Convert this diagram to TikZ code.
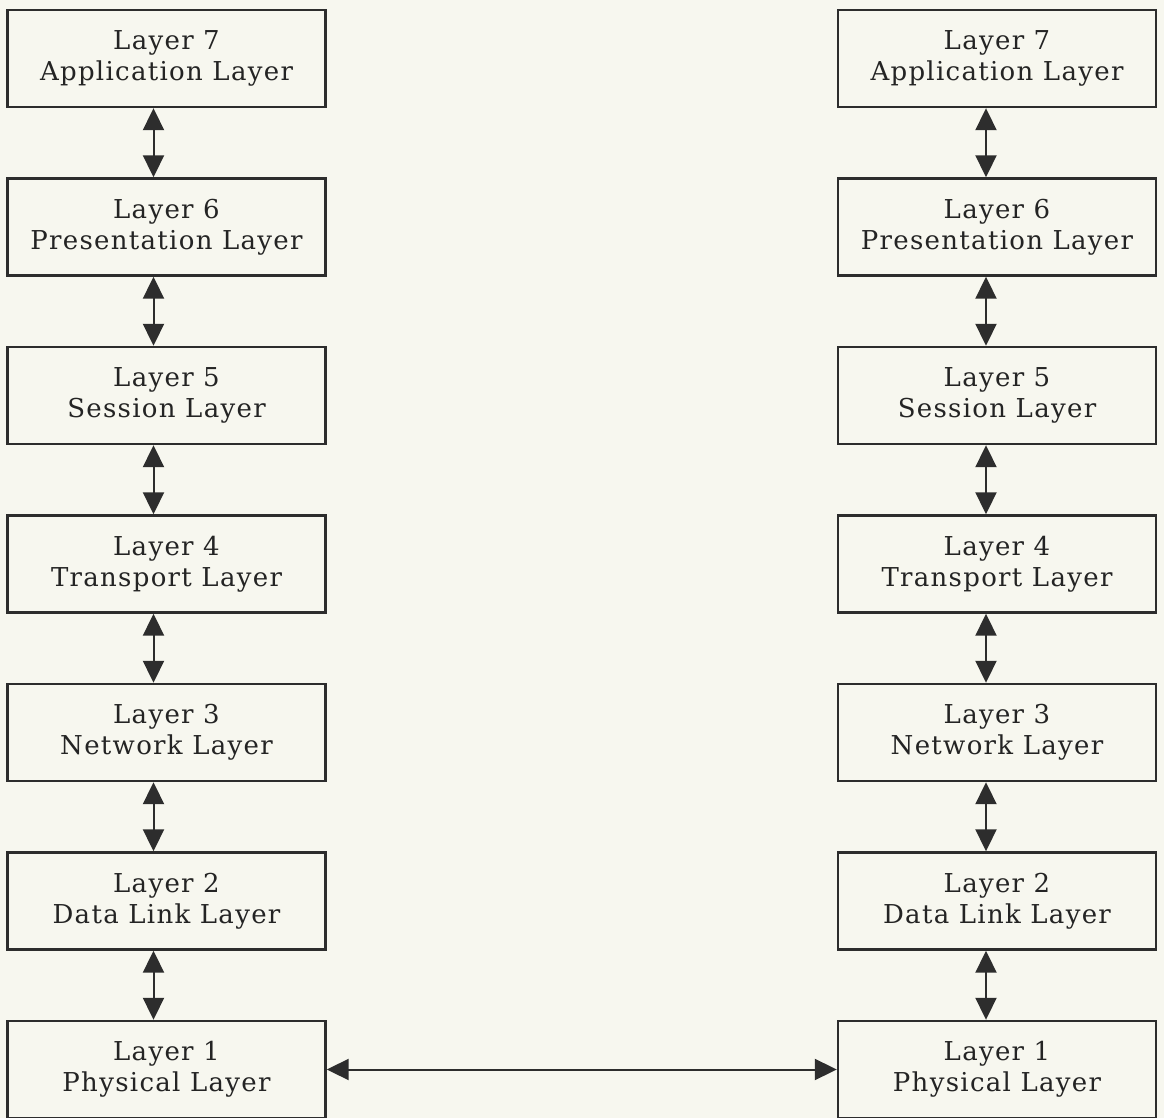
\documentclass[tikz,border=0pt]{standalone}
\usepackage{fontspec}
\setmainfont[LetterSpace=5]{DejaVu Serif}
\usetikzlibrary{arrows.meta}
\definecolor{paper}{RGB}{247,247,239}
\definecolor{ink}{RGB}{45,45,45}

\begin{document}
\begin{tikzpicture}[x=0.5pt,y=-0.5pt,
   layerbox/.style={draw=ink,line width=1.2pt,minimum width=159pt,minimum height=48.5pt,
      align=center,text=ink!80!black,font=\fontsize{13}{15.5}\selectfont},
   link/.style={draw=ink,line width=1pt,{Triangle[length=11pt,width=10.5pt]}-{Triangle[length=11pt,width=10.5pt]}}]
   \fill[paper] (0,0) rectangle (1164,1118);
   \useasboundingbox (0,0) rectangle (1164,1118);
   % left stack
   \node[layerbox] (l7) at (166.5,58.5) {Layer 7\\Application Layer};
   \node[layerbox] (l6) at (166.5,227) {Layer 6\\Presentation Layer};
   \node[layerbox] (l5) at (166.5,395.5) {Layer 5\\Session Layer};
   \node[layerbox] (l4) at (166.5,564) {Layer 4\\Transport Layer};
   \node[layerbox] (l3) at (166.5,732.5) {Layer 3\\Network Layer};
   \node[layerbox] (l2) at (166.5,901) {Layer 2\\Data Link Layer};
   \node[layerbox] (l1) at (166.5,1069.5) {Layer 1\\Physical Layer};
   % right stack
   \node[layerbox] (r7) at (997,58.5) {Layer 7\\Application Layer};
   \node[layerbox] (r6) at (997,227) {Layer 6\\Presentation Layer};
   \node[layerbox] (r5) at (997,395.5) {Layer 5\\Session Layer};
   \node[layerbox] (r4) at (997,564) {Layer 4\\Transport Layer};
   \node[layerbox] (r3) at (997,732.5) {Layer 3\\Network Layer};
   \node[layerbox] (r2) at (997,901) {Layer 2\\Data Link Layer};
   \node[layerbox] (r1) at (997,1069.5) {Layer 1\\Physical Layer};
   % arrows between layers
   \draw[link] ([xshift=-6.5pt]l7.south) -- ([xshift=-6.5pt]l6.north);
   \draw[link] ([xshift=-6.5pt]l6.south) -- ([xshift=-6.5pt]l5.north);
   \draw[link] ([xshift=-6.5pt]l5.south) -- ([xshift=-6.5pt]l4.north);
   \draw[link] ([xshift=-6.5pt]l4.south) -- ([xshift=-6.5pt]l3.north);
   \draw[link] ([xshift=-6.5pt]l3.south) -- ([xshift=-6.5pt]l2.north);
   \draw[link] ([xshift=-6.5pt]l2.south) -- ([xshift=-6.5pt]l1.north);
   \draw[link] ([xshift=-5.5pt]r7.south) -- ([xshift=-5.5pt]r6.north);
   \draw[link] ([xshift=-5.5pt]r6.south) -- ([xshift=-5.5pt]r5.north);
   \draw[link] ([xshift=-5.5pt]r5.south) -- ([xshift=-5.5pt]r4.north);
   \draw[link] ([xshift=-5.5pt]r4.south) -- ([xshift=-5.5pt]r3.north);
   \draw[link] ([xshift=-5.5pt]r3.south) -- ([xshift=-5.5pt]r2.north);
   \draw[link] ([xshift=-5.5pt]r2.south) -- ([xshift=-5.5pt]r1.north);
   % physical link
   \draw[link] (l1.east) -- (r1.west);
\end{tikzpicture}
\end{document}
